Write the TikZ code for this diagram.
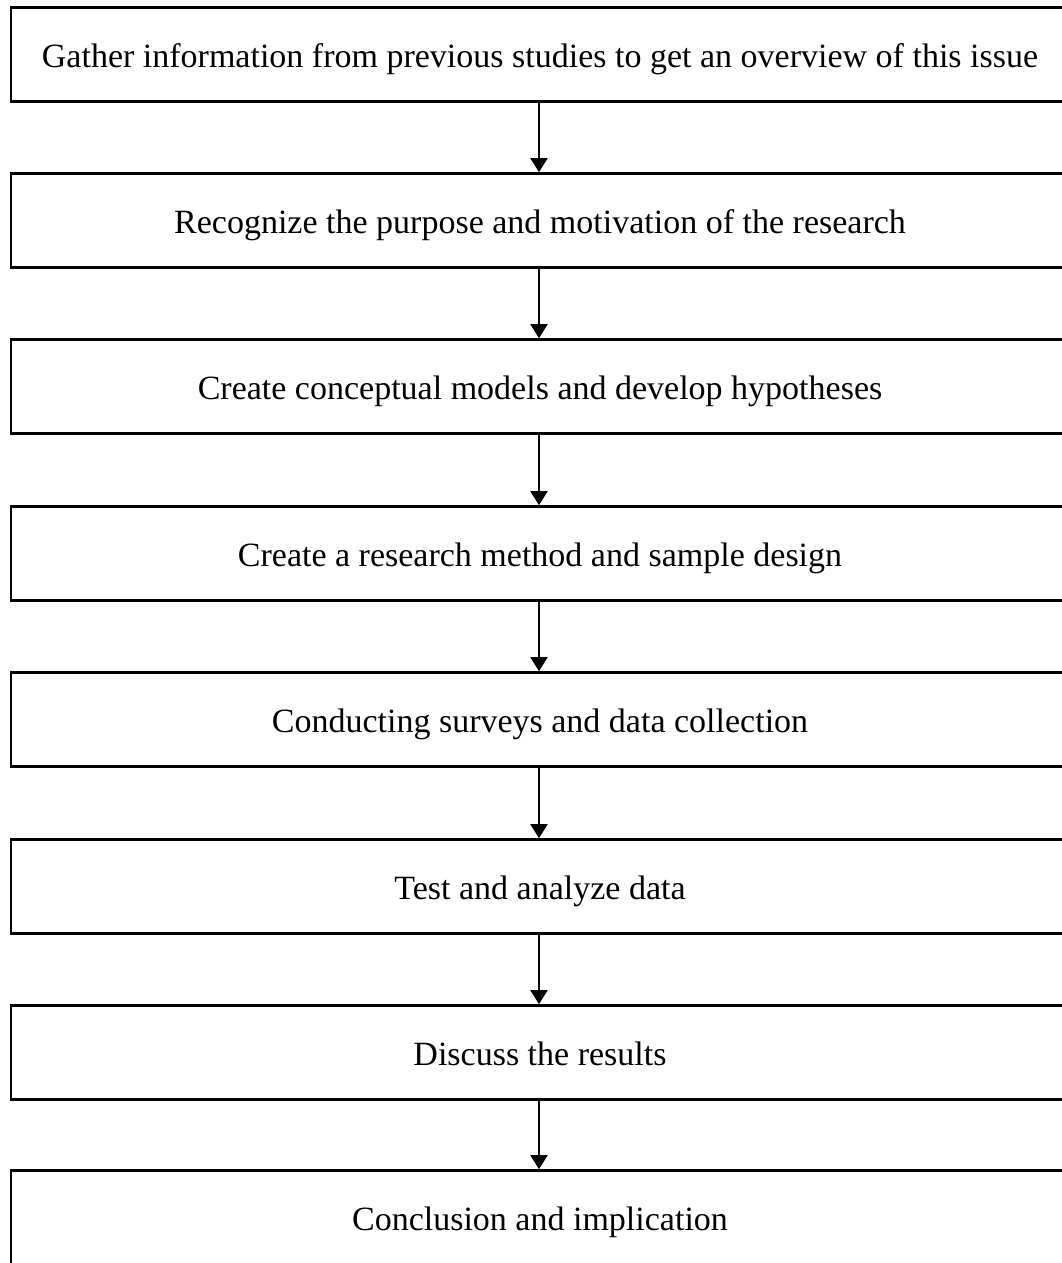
\documentclass[tikz,border=0pt]{standalone}
\usepackage{fontspec}
\setmainfont{Liberation Serif}
\usetikzlibrary{arrows.meta}
\begin{document}
\begin{tikzpicture}[x=1pt,y=-1pt,
  stage/.style={draw, line width=2.6pt, rectangle, minimum width=1058pt,
    minimum height=94pt, inner sep=0pt, text height=26pt, text depth=0pt,
    font=\fontsize{34}{40}\selectfont},
  flow/.style={line width=1.8pt, -{Triangle[width=17pt,length=14pt]}}]
\useasboundingbox (0,0) rectangle (1062,1263);
\clip (0,0) rectangle (1062,1263);
\node[stage] (s1) at (540,54.5) {Gather information from previous studies to get an overview of this issue};
\node[stage] (s2) at (540,220.5) {Recognize the purpose and motivation of the research};
\node[stage] (s3) at (540,386.5) {Create conceptual models and develop hypotheses};
\node[stage] (s4) at (540,553.5) {Create a research method and sample design};
\node[stage] (s5) at (540,719.5) {Conducting surveys and data collection};
\node[stage] (s6) at (540,886.5) {Test and analyze data};
\node[stage] (s7) at (540,1052.5) {Discuss the results};
\node[stage] (s8) at (540,1217.5) {Conclusion and implication};
\foreach \a/\b in {s1/s2,s2/s3,s3/s4,s4/s5,s5/s6,s6/s7,s7/s8}
  \draw[flow] (\a.south -| 539,0) -- (\b.north -| 539,0);
\end{tikzpicture}
\end{document}
